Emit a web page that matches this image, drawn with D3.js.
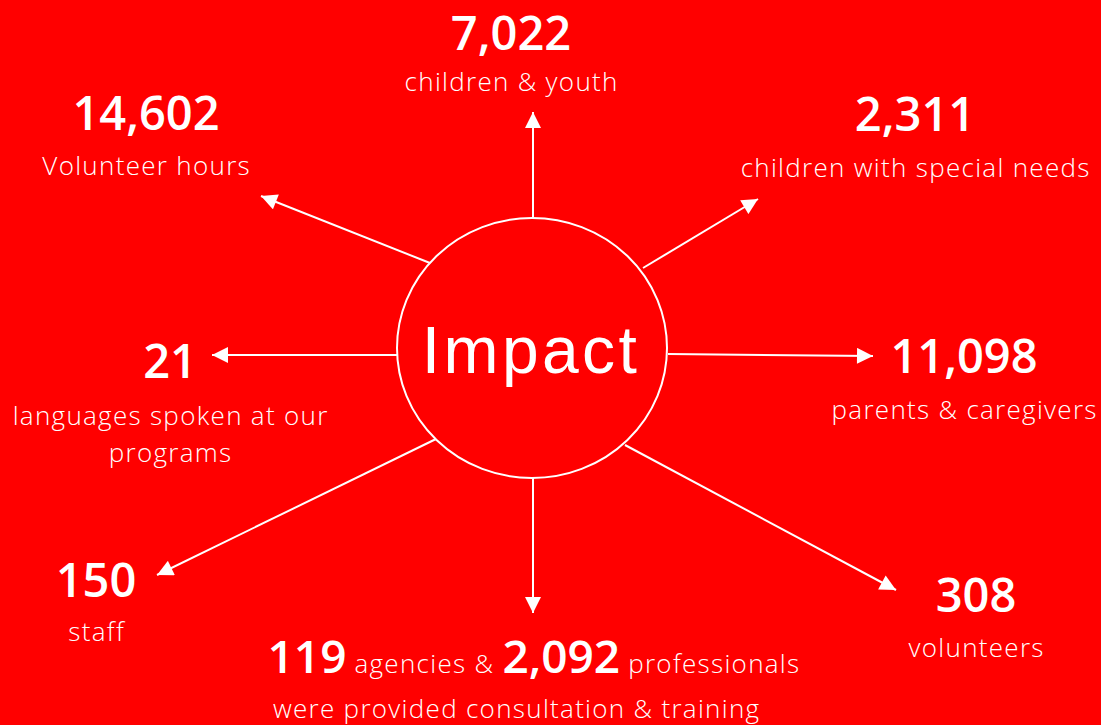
<!DOCTYPE html>
<html><head><meta charset="utf-8">
<script src="https://cdn.jsdelivr.net/npm/d3@7"></script>
<style>
html,body{margin:0;padding:0;background:#ff0000;}
svg{display:block;}
</style></head>
<body>
<script>
// ---- data ----
const values = ["7,022", "2,311", "11,098", "308", "119", "150", "21", "14,602"];
const labels = [
  ["children & youth"],
  ["children with special needs"],
  ["parents & caregivers"],
  ["volunteers"],
  ["were provided consultation & training"],
  ["staff"],
  ["languages spoken at our", "programs"],
  ["Volunteer hours"]
];
const secondValue = "2,092";
const bottomWords = ["agencies &", "professionals"];
const title = "Impact";

// ---- layout (separate from data) ----
const W = 1101, H = 725;
const center = {x: 532, y: 348, rx: 135, ry: 130};
const arrows = [
  [[533, 218], [533, 112]],
  [[643, 268], [758, 199]],
  [[668, 354], [873, 356]],
  [[625, 445], [896, 590]],
  [[533, 478], [533, 613]],
  [[436, 439], [157, 575]],
  [[397, 355], [212, 355]],
  [[430, 263], [261, 196]]
];
const textPos = [
  {x: 511, ny: 50,  ly: 91},
  {x: 915, ny: 131, ly: 177},
  {x: 964, ny: 373, ly: 419},
  {x: 976, ny: 612, ly: 657},
  {x: 516, ny: 673, ly: 718},
  {x: 96,  ny: 597, ly: 641},
  {x: 170, ny: 378, ly: 425, lh: 37},
  {x: 146, ny: 130, ly: 175}
];

const numFont = "'Open Sans', sans-serif";
const lblFont = "'Open Sans', sans-serif";
const lblWeight = 300;
const lblSize = "26px";
const lblSpacing = 1.3;

const svg = d3.select("body").append("svg").attr("width", W).attr("height", H);
svg.append("rect").attr("width", W).attr("height", H).attr("fill", "#ff0000");

svg.append("defs").append("marker")
  .attr("id", "ah").attr("viewBox", "0 0 10 10").attr("refX", 10).attr("refY", 5)
  .attr("markerWidth", 8.5).attr("markerHeight", 8).attr("markerUnits", "strokeWidth")
  .attr("orient", "auto")
  .append("path").attr("d", "M0,0 L10,5 L0,10 Z").attr("fill", "#fff");

svg.append("ellipse").attr("cx", center.x).attr("cy", center.y)
  .attr("rx", center.rx).attr("ry", center.ry)
  .attr("fill", "none").attr("stroke", "#fff").attr("stroke-width", 2);

svg.append("text").attr("x", 531).attr("y", 373)
  .attr("text-anchor", "middle").attr("fill", "#fff")
  .style("font-family", "'Liberation Sans', Arial, sans-serif").style("font-size", "66px")
  .style("letter-spacing", "3.4px")
  .text(title);

const line = d3.line();
svg.selectAll("path.arrow").data(arrows).join("path")
  .attr("class", "arrow").attr("d", d => line(d))
  .attr("stroke", "#fff").attr("stroke-width", 2).attr("fill", "none")
  .attr("marker-end", "url(#ah)");

values.forEach((v, i) => {
  const p = textPos[i];
  if (i === 4) {
    const t = svg.append("text").attr("x", 534).attr("y", p.ny)
      .attr("text-anchor", "middle").attr("fill", "#fff");
    t.append("tspan").style("font-family", numFont).style("font-weight", 600).style("font-size", "46px").text(v);
    t.append("tspan").style("font-family", lblFont).style("font-weight", lblWeight).style("font-size", lblSize)
      .style("letter-spacing", lblSpacing + "px").text(" " + bottomWords[0] + " ");
    t.append("tspan").style("font-family", numFont).style("font-weight", 600).style("font-size", "46px").text(secondValue);
    t.append("tspan").style("font-family", lblFont).style("font-weight", lblWeight).style("font-size", lblSize)
      .style("letter-spacing", lblSpacing + "px").text(" " + bottomWords[1]);
  } else {
    svg.append("text").attr("x", p.x).attr("y", p.ny).attr("text-anchor", "middle")
      .attr("fill", "#fff").style("font-family", numFont).style("font-weight", 600)
      .style("font-size", "47px").text(v);
  }
  labels[i].forEach((l, j) => {
    svg.append("text").attr("x", p.x + lblSpacing / 2).attr("y", p.ly + j * (p.lh || 36))
      .attr("text-anchor", "middle").attr("fill", "#fff")
      .style("font-family", lblFont).style("font-weight", lblWeight).style("font-size", lblSize)
      .style("letter-spacing", lblSpacing + "px")
      .text(l);
  });
});
</script>
</body></html>
